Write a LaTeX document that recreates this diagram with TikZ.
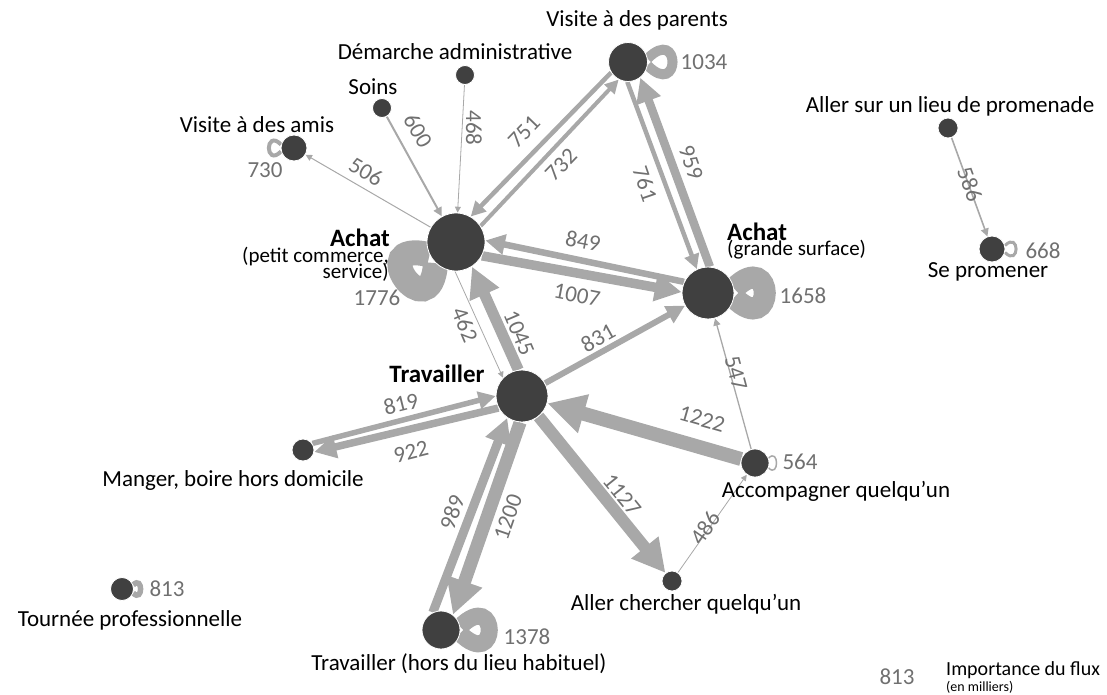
\documentclass[tikz,border=0pt]{standalone}
\usepackage{fontspec}
\setmainfont{Carlito}
\usetikzlibrary{arrows.meta}
\pgfdeclarelayer{bg}
\pgfsetlayers{bg,main}
\definecolor{nodec}{HTML}{404040}
\definecolor{edgec}{HTML}{A8A8A8}
\definecolor{numc}{HTML}{707070}
\newcommand{\selfloop}[6]{%
  \draw[selfl=#6] (#1.{#2+#3}) .. controls +({-(#2+#4)}:#5) and +({-(#2-#4)}:#5) .. (#1.{#2-#3});}
\begin{document}
\begin{tikzpicture}[x=1pt,y=-1pt,
  vtx/.style={circle, fill=nodec, draw=white, line width=0.8pt, inner sep=0pt, minimum size=#1},
  flow/.style={draw=edgec, line width=#1pt, -{Triangle[length=4pt 2.4, width=4pt 2.4]}},
  selfl/.style={draw=edgec, line width=#1pt},
  num/.style={text=numc, font=\fontsize{23}{26}\selectfont, inner sep=0pt},
  lbl/.style={text=black, font=\fontsize{23}{26}\selectfont, inner sep=0pt},
  blbl/.style={text=black, font=\fontsize{25}{28}\selectfont\bfseries, inner sep=0pt},
  slbl/.style={text=black, font=\fontsize{21}{23}\selectfont, inner sep=0pt}
]
\useasboundingbox (0,0) rectangle (1107,695);

% vertices
\node[vtx=58pt] (A) at (456,242) {};
\node[vtx=52pt] (G) at (708,293) {};
\node[vtx=39pt] (P) at (628,62) {};
\node[vtx=52pt] (T) at (522,396) {};
\node[vtx=19pt] (D) at (465,75) {};
\node[vtx=19pt] (S) at (382,108) {};
\node[vtx=26pt] (V) at (294,148) {};
\node[vtx=22pt] (M) at (303,450) {};
\node[vtx=38pt] (H) at (441,630) {};
\node[vtx=20pt] (C) at (672,581) {};
\node[vtx=28pt] (K) at (755,463) {};
\node[vtx=20pt] (L) at (948,128) {};
\node[vtx=26pt] (R) at (992,249) {};
\node[vtx=23pt] (TP) at (122,589) {};

\begin{pgfonlayer}{bg}
% self loops
\selfloop{A}{216}{10}{50}{70}{25}
\selfloop{G}{0}{10}{45}{58}{22}
\selfloop{P}{0}{10}{45}{47}{10}
\selfloop{H}{0}{10}{45}{55}{17}
\selfloop{V}{180}{15}{45}{23}{4}
\selfloop{R}{0}{15}{45}{21}{3}
\selfloop{K}{0}{20}{45}{15}{1.5}
\selfloop{TP}{0}{20}{45}{14}{5.5}
% flows
\draw[flow=1] (A) -- (V);
\draw[flow=2] (S) -- (A);
\draw[flow=0.8] (D) -- (A);
\draw[flow=4.5] (P.212) -- (A.60);
\draw[flow=4] (A.33) -- (P.242);
\draw[flow=4.5] (P.268) -- (G.115);
\draw[flow=8.5] (G.86) -- (P.-52);
\draw[flow=6.5] (G.155) -- (A.3);
\draw[flow=9.5] (A.-28) -- (G.178);
\draw[flow=11] (T.98) -- (A.-57);
\draw[flow=0.8] (A.268) -- (T.136);
\draw[flow=6] (T) -- (G);
\draw[flow=5.5] (M.35) -- (T.180);
\draw[flow=7.5] (T.207) -- (M.-10);
\draw[flow=9] (H.115) -- (T.236);
\draw[flow=13] (T.266) -- (H.52);
\draw[flow=12] (T) -- (C);
\draw[flow=14] (K) -- (T);
\draw[flow=1.3] (K) -- (G);
\draw[flow=0.8] (C) -- (K);
\draw[flow=1.6] (L) -- (R);
\end{pgfonlayer}

% flow values
\node[num, rotate=-30] (n506) at (366,172) {506};
\node[num, rotate=-60] (n600) at (418,131) {600};
\node[num, rotate=-90] (n468) at (474,128) {468};
\node[num, rotate=46] (n751) at (524,132) {751};
\node[num, rotate=46] (n732) at (561,165) {732};
\node[num, rotate=-71] (n761) at (645,184) {761};
\node[num, rotate=-71] (n959) at (691,163) {959};
\node[num, rotate=-11] (n849) at (583,241) {849};
\node[num, rotate=-11] (n1007) at (577,295) {1007};
\node[num, rotate=-67] (n462) at (465,325) {462};
\node[num, rotate=-67] (n1045) at (519,333) {1045};
\node[num, rotate=29] (n831) at (598,338) {831};
\node[num, rotate=14] (n819) at (401,404) {819};
\node[num, rotate=14] (n922) at (411,452) {922};
\node[num, rotate=71] (n989) at (452,512) {989};
\node[num, rotate=71] (n1200) at (508,517) {1200};
\node[num, rotate=-51] (n1127) at (622,495) {1127};
\node[num, rotate=-16] (n1222) at (702,419) {1222};
\node[num, rotate=-75] (n547) at (736,373) {547};
\node[num, rotate=55] (n486) at (705,528) {486};
\node[num, rotate=-70] (n586) at (970,184) {586};
\node[num] (n1776) at (377,298) {1776};
\node[num] (n1658) at (803,296) {1658};
\node[num] (n1034) at (704,62) {1034};
\node[num] (n1378) at (527,637) {1378};
\node[num] (n730) at (265,170) {730};
\node[num] (n668) at (1043,251) {668};
\node[num] (n564) at (800,462) {564};
\node[num] (n813) at (167,589) {813};

% vertex labels
\node[lbl] (tP) at (637,20) {Visite à des parents};
\node[lbl] (tD) at (455,52) {Démarche administrative};
\node[lbl] (tS) at (373,87) {Soins};
\node[lbl] (tV) at (257,125) {Visite à des amis};
\node[lbl] (tL) at (950,106) {Aller sur un lieu de promenade};
\node[lbl] (tR) at (988,272) {Se promener};
\node[blbl, anchor=east] (tA1) at (390,238) {Achat};
\node[slbl, anchor=east] (tA2) at (389,257) {(petit commerce,};
\node[slbl, anchor=east] (tA3) at (389,272) {service)};
\node[blbl, anchor=west] (tG1) at (727,232) {Achat};
\node[slbl, anchor=west] (tG2) at (727,250) {(grande surface)};
\node[blbl] (tT) at (437,374) {Travailler};
\node[lbl] (tM) at (233,480) {Manger, boire hors domicile};
\node[lbl] (tK) at (836,491) {Accompagner quelqu'un};
\node[lbl] (tC) at (686,604) {Aller chercher quelqu'un};
\node[lbl] (tTP) at (130,620) {Tournée professionnelle};
\node[lbl] (tH) at (459,664) {Travailler (hors du lieu habituel)};

% legend
\node[num] (leg1) at (897,677) {813};
\node[text=black, font=\fontsize{20}{22}\selectfont, inner sep=0pt, anchor=west] (leg2) at (946,670) {Importance du flux};
\node[text=black, font=\fontsize{14}{16}\selectfont, inner sep=0pt, anchor=west] (leg3) at (946,687) {(en milliers)};
\end{tikzpicture}
\end{document}
